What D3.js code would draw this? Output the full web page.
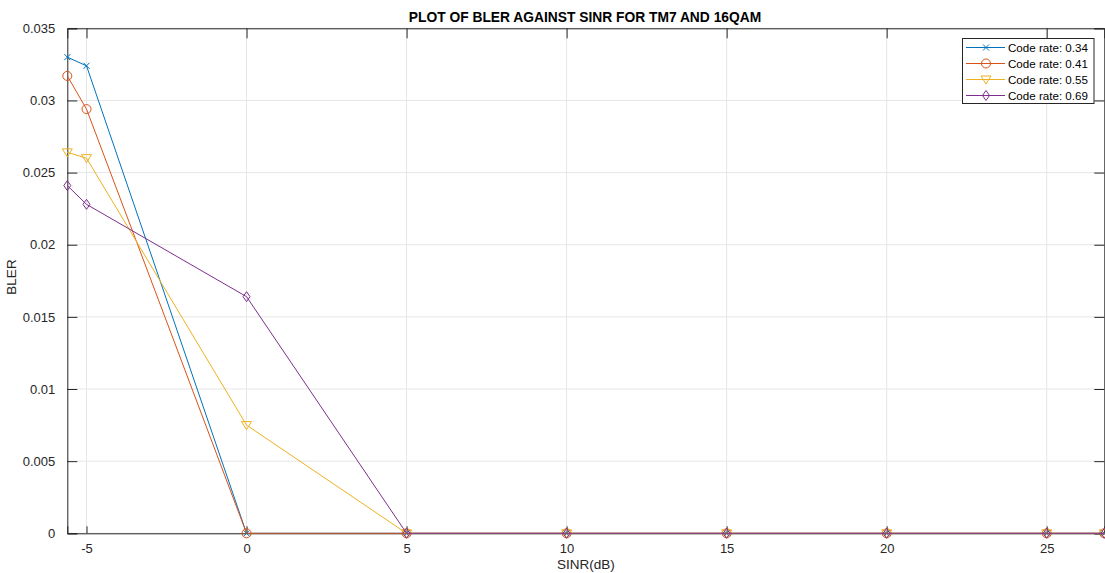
<!DOCTYPE html>
<html><head><meta charset="utf-8">
<script src="https://cdn.jsdelivr.net/npm/d3@7"></script>
<style>body{margin:0;background:#fff;} svg{display:block;}</style>
</head><body>
<svg id="c" width="1105" height="573"></svg>
<script>
const sinr = [-5.6, -5, 0, 5, 10, 15, 20, 25, 26.8];
const seriesNames = ["Code rate: 0.34", "Code rate: 0.41", "Code rate: 0.55", "Code rate: 0.69"];
const bler034 = [0.0330, 0.0324, 0, 0, 0, 0, 0, 0, 0];
const bler041 = [0.0317, 0.0294, 0, 0, 0, 0, 0, 0, 0];
const bler055 = [0.0264, 0.0260, 0.0075, 0, 0, 0, 0, 0, 0];
const bler069 = [0.0241, 0.0228, 0.0164, 0, 0, 0, 0, 0, 0];
const xTicks = [-5, 0, 5, 10, 15, 20, 25];
const yTicks = [0, 0.005, 0.01, 0.015, 0.02, 0.025, 0.03, 0.035];
const colors = ["#0072BD", "#D95319", "#EDB120", "#7E2F8E"];
const markers = ["x", "o", "v", "d"];
const allSeries = [bler034, bler041, bler055, bler069];

const svg = d3.select("#c");
const L = 67.3, R = 1104.3, T = 28.3, B = 533.3;
const x = d3.scaleLinear().domain([-5.6, 26.8]).range([L, R]);
const y = d3.scaleLinear().domain([0, 0.035]).range([B, T]);
const font = "Arial, 'Liberation Sans', sans-serif";

// grid
const g = svg.append("g");
g.selectAll(".gx").data(xTicks).enter().append("line")
  .attr("x1", d => x(d)).attr("x2", d => x(d)).attr("y1", T).attr("y2", B)
  .attr("stroke", "#e6e6e6").attr("stroke-width", 1);
g.selectAll(".gy").data(yTicks).enter().append("line")
  .attr("x1", L).attr("x2", R).attr("y1", d => y(d)).attr("y2", d => y(d))
  .attr("stroke", "#e6e6e6").attr("stroke-width", 1);

// axes
const xAxis = d3.axisBottom(x).tickValues(xTicks).tickSize(-7).tickPadding(10).tickFormat(d => String(d));
const yAxis = d3.axisLeft(y).tickValues(yTicks).tickSize(-10).tickPadding(12).tickFormat(d => String(+d.toFixed(3)));
const xTop = d3.axisTop(x).tickValues(xTicks).tickSize(-10).tickFormat("");
const yRight = d3.axisRight(y).tickValues(yTicks).tickSize(-10).tickFormat("");

function styleAxis(sel) {
  sel.select(".domain").attr("stroke", "#262626").attr("stroke-width", 1);
  sel.selectAll(".tick line").attr("stroke", "#262626");
  sel.selectAll("text").attr("fill", "#262626").style("font-family", font).style("font-size", "13px");
}
svg.append("g").attr("transform", `translate(0,${B})`).call(xAxis).call(styleAxis);
svg.append("g").attr("transform", `translate(${L},0)`).call(yAxis).call(styleAxis);
svg.append("g").attr("transform", `translate(0,${T})`).call(xTop).call(styleAxis);
svg.append("g").attr("transform", `translate(${R},0)`).call(yRight).call(styleAxis);

// lines
const line = d3.line().x((d, i) => x(sinr[i])).y(d => y(d));
function marker(sel, type, color) {
  if (type === "x") {
    sel.append("path").attr("d", "M-3,-3L3,3M-3,3L3,-3").attr("stroke", color).attr("fill", "none").attr("stroke-width", 1);
  } else if (type === "o") {
    sel.append("circle").attr("r", 4.5).attr("stroke", color).attr("fill", "none").attr("stroke-width", 1);
  } else if (type === "v") {
    sel.append("path").attr("d", "M-5,-3.5L5,-3.5L0,4.5Z").attr("stroke", color).attr("fill", "none").attr("stroke-width", 1);
  } else if (type === "d") {
    sel.append("path").attr("d", "M0,-5L3.5,0L0,5L-3.5,0Z").attr("stroke", color).attr("fill", "none").attr("stroke-width", 1);
  }
}
const plot = svg.append("g");
allSeries.forEach((s, k) => {
  plot.append("path").datum(s).attr("d", line).attr("fill", "none")
    .attr("stroke", colors[k]).attr("stroke-width", 1);
  s.forEach((v, i) => {
    const m = plot.append("g").attr("transform", `translate(${x(sinr[i])},${y(v)})`);
    marker(m, markers[k], colors[k]);
  });
});

// title and labels
svg.append("text").attr("x", 585).attr("y", 21.5).attr("text-anchor", "middle")
  .style("font-family", font).style("font-size", "13.8px").style("font-weight", "bold").attr("fill", "#000")
  .text("PLOT OF BLER AGAINST SINR FOR TM7 AND 16QAM");
svg.append("text").attr("x", 586).attr("y", 569).attr("text-anchor", "middle")
  .style("font-family", font).style("font-size", "13.5px").attr("fill", "#262626").text("SINR(dB)");
svg.append("text").attr("transform", `translate(15.5,277) rotate(-90)`).attr("text-anchor", "middle")
  .style("font-family", font).style("font-size", "13.5px").attr("fill", "#262626").text("BLER");

// legend
const lg = svg.append("g").attr("transform", "translate(962.5,38.5)");
lg.append("rect").attr("width", 131.5).attr("height", 65).attr("fill", "#fff").attr("stroke", "#262626").attr("stroke-width", 1);
seriesNames.forEach((n, k) => {
  const yy = 9 + k * 16;
  lg.append("line").attr("x1", 3.5).attr("x2", 42.5).attr("y1", yy).attr("y2", yy).attr("stroke", colors[k]).attr("stroke-width", 1);
  const m = lg.append("g").attr("transform", `translate(23.5,${yy})`);
  marker(m, markers[k], colors[k]);
  lg.append("text").attr("x", 45.5).attr("y", yy + 4).style("font-family", font).style("font-size", "11.6px").attr("fill", "#000").text(n);
});
</script>
</body></html>
